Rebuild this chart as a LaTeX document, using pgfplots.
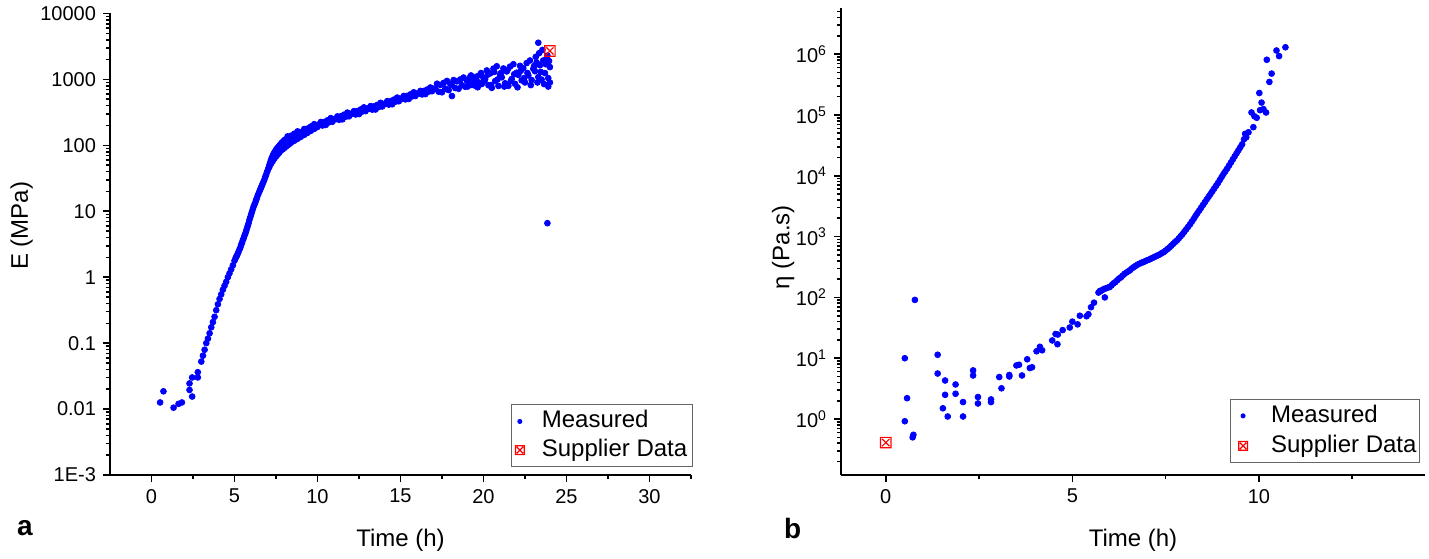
\documentclass[border=0pt]{standalone}
\usepackage{fontspec}
\setmainfont{Liberation Sans}
\usepackage{pgfplots}
\pgfplotsset{compat=1.18}
\definecolor{mblue}{RGB}{0,0,255}
\definecolor{mred}{RGB}{255,0,0}
\pgfdeclareplotmark{sqx}{%
  \pgfpathrectangle{\pgfpoint{-\pgfplotmarksize}{-\pgfplotmarksize}}{\pgfpoint{2\pgfplotmarksize}{2\pgfplotmarksize}}%
  \pgfpathmoveto{\pgfpoint{-0.7\pgfplotmarksize}{-0.7\pgfplotmarksize}}%
  \pgfpathlineto{\pgfpoint{0.7\pgfplotmarksize}{0.7\pgfplotmarksize}}%
  \pgfpathmoveto{\pgfpoint{-0.7\pgfplotmarksize}{0.7\pgfplotmarksize}}%
  \pgfpathlineto{\pgfpoint{0.7\pgfplotmarksize}{-0.7\pgfplotmarksize}}%
  \pgfusepathqstroke}
\pgfplotsset{
  common/.style={
    scale only axis,
    axis lines*=left,
    axis line style={line width=0.9pt},
    tick style={line width=0.8pt, black},
    major tick length=3.5pt,
    minor tick length=2pt,
    tick align=outside,
    tick label style={font=\fontsize{10}{12}\selectfont},
    label style={font=\fontsize{12}{14}\selectfont},
    /pgf/number format/assume math mode=true,
    legend cell align=left,
  },
  meas/.style={only marks, mark=*, mark size=1.45pt, color=mblue,
    mark options={draw=mblue, fill=mblue}},
  supp/.style={only marks, mark=sqx, mark size=2.6pt, color=mred,
    mark options={draw=mred, fill=white, line width=0.6pt}},
  limg/.style n args={3}{legend image code/.code={\path[draw=none,fill=none] (0pt,0pt) -- (#1,0pt); \draw[##1, only marks, mark size=#3] plot coordinates {(#2,0pt)};}},
}
\begin{document}
\begin{tikzpicture}
\path[use as bounding box] (0,0) rectangle (714.5pt,279pt);
% ---------------- panel a ----------------
\begin{axis}[common,
  at={(55pt,41.5pt)}, anchor=south west,
  width=290.5pt, height=230.75pt,
  xmin=-2.5, xmax=32.5,
  ymode=log, ymin=1e-3, ymax=1e4,
  xtick={0,5,10,15,20,25,30},
  minor xtick={2.5,7.5,12.5,17.5,22.5,27.5,32.5},
  ytick={1e-3,1e-2,1e-1,1,10,100,1000,10000},
  yticklabels={1E-3,0.01,0.1,1,10,100,1000,10000},
  minor ytick={2e-3,3e-3,4e-3,5e-3,6e-3,7e-3,8e-3,9e-3,
    0.02,0.03,0.04,0.05,0.06,0.07,0.08,0.09,
    0.2,0.3,0.4,0.5,0.6,0.7,0.8,0.9,
    2,3,4,5,6,7,8,9,20,30,40,50,60,70,80,90,
    200,300,400,500,600,700,800,900,
    2000,3000,4000,5000,6000,7000,8000,9000},
  xlabel={Time (h)}, ylabel={E (MPa)},
  xlabel style={at={(axis description cs:0.5,-0.141)}, anchor=center},
  ylabel style={at={(axis description cs:-0.152,0.54)}, anchor=center},
  legend style={at={(1.003,0.017)}, anchor=south east, draw=black!60, line width=0.5pt,
    inner xsep=1.5pt, inner ysep=1.5pt,
    nodes={inner sep=1pt, text height=9pt, text depth=2.5pt},
    font=\fontsize{12}{14}\selectfont, row sep=0.85pt,
    /tikz/every even column/.append style={column sep=2pt}},
]
\addplot[meas, limg={12.5pt}{2.5pt}{1pt}] coordinates {
(0.52,0.0126)(0.72,0.0186)(1.33,0.0105)(1.63,0.0120)(1.83,0.0126)(2.45,0.0155)
(2.29,0.0195)(2.29,0.0245)(2.45,0.0302)(2.79,0.0302)(2.79,0.0363)
(3.0,0.0525)(3.1,0.0646)(3.2,0.0794)(3.3,0.100)(3.4,0.117)(3.5,0.141)(3.6,0.174)
(3.7,0.209)(3.8,0.251)(3.9,0.316)(4.0,0.389)(4.1,0.468)(4.2,0.550)(4.3,0.646)
(4.4,0.741)(4.5,0.851)(4.6,1.00)(4.7,1.148)(4.8,1.318)(4.9,1.514)(5.0,1.778)
(5.05,1.905)(5.10,2.042)(5.15,2.138)(5.20,2.291)(5.25,2.455)(5.30,2.630)(5.35,2.818)
(5.40,3.090)(5.45,3.311)(5.50,3.631)(5.55,3.890)(5.60,4.266)(5.65,4.571)(5.70,5.012)
(5.75,5.495)(5.80,6.026)(5.85,6.607)(5.90,7.413)(5.95,8.128)(6.00,8.913)(6.05,9.772)
(6.10,10.72)(6.15,11.75)(6.20,12.59)(6.25,13.49)(6.30,14.79)(6.35,15.85)(6.40,17.38)
(6.45,18.62)(6.50,19.95)(6.55,21.38)(6.60,22.91)(6.65,24.55)(6.70,26.30)(6.75,28.18)
(6.80,30.20)(6.85,33.11)(6.90,35.48)(6.95,38.90)(7.00,41.69)(7.05,45.71)(7.10,50.12)
(7.15,54.95)(7.20,60.26)(7.25,64.57)(7.30,69.18)(7.35,74.13)(7.40,77.62)(7.45,81.28)
(7.50,85.11)(7.55,89.13)(7.60,91.20)(7.65,95.50)(7.70,97.72)(7.75,102.3)(7.80,104.7)
(7.85,109.6)(7.90,112.2)(7.95,114.8)(8.00,120.2)
(7.1,46.8)(7.2,52.5)(7.3,57.5)(7.4,63.1)(7.5,67.6)(7.6,72.4)(7.7,77.6)(7.8,83.2)
(7.9,87.1)(8.0,91.2)(8.1,95.5)(8.2,100)(8.3,104.7)(8.4,109.6)(8.5,114.8)(8.6,117.5)
(8.7,123.0)(8.8,125.9)(8.9,131.8)(9.0,134.9)(9.2,144.5)(9.4,154.9)(9.6,166.0)
(9.8,177.8)(10.0,190.5)
(8.1,124)(8.2,137)(8.3,123)(8.4,140)(8.5,127)(8.6,150)(8.7,140)(8.8,163)(8.9,144)(9.0,158)
(9.1,160)(9.2,177)(9.3,159)(9.4,180)(9.5,164)(9.6,193)(9.7,181)(9.8,210)(9.9,186)(10.0,204)
(10.1,204)(10.2,226)(10.3,200)(10.4,226)(10.5,204)(10.6,240)(10.7,224)(10.8,259)(10.9,228)(11.0,250)
(11.1,250)(11.2,275)(11.3,244)(11.4,276)(11.5,248)(11.6,292)(11.7,272)(11.8,314)(11.9,276)(12.0,301)
(12.1,301)(12.2,331)(12.3,294)(12.4,331)(12.5,298)(12.6,350)(12.7,326)(12.8,377)(12.9,331)(13.0,362)
(13.1,360)(13.2,394)(13.3,348)(13.4,390)(13.5,350)(13.6,411)(13.7,383)(13.8,442)(13.9,389)(14.0,425)
(14.1,425)(14.2,468)(14.3,415)(14.4,467)(14.5,420)(14.6,494)(14.7,460)(14.8,531)(14.9,467)(15.0,510)
(15.1,510)(15.2,562)(15.3,498)(15.4,562)(15.5,506)(15.6,594)(15.7,553)(15.8,638)(15.9,561)(16.0,612)
(16.1,610)(16.2,670)(16.3,592)(16.4,666)(16.5,598)(16.6,702)(16.7,654)(16.8,755)(16.9,663)(17.0,724)
(17.1,720)(17.2,861)(17.3,651)(17.4,825)(17.5,638)(17.6,886)(17.7,725)(17.8,948)(17.9,688)(18.0,851)
(18.1,820)(18.1,560)(18.2,979)(18.3,739)(18.4,935)(18.5,722)(18.6,1000)(18.7,818)(18.8,1068)(18.9,774)(19.0,956)
(19.1,919)(19.2,1095)(19.3,825)(19.4,1041)(19.5,802)(19.6,1109)(19.7,905)(19.8,1178)(19.9,852)(20.0,1050)
(20.1,1007)(20.2,1369)(20.3,817)(20.4,1234)(20.5,745)(20.6,1459)(20.7,944)(20.8,1584)(20.9,797)(21.0,1177)
(21.1,1078)(21.2,1466)(21.3,875)(21.4,1322)(21.5,799)(21.6,1565)(21.7,1013)(21.8,1701)(21.9,857)(22.0,1265)
(22.1,1170)(22.2,1607)(22.3,968)(22.4,1476)(22.5,900)(22.6,1770)(22.7,1150)(22.8,1938)(22.9,980)(23.0,1452)
(23.1,1332)(23.2,1814)(23.3,1085)(23.4,1642)(23.5,994)(23.6,1938)(23.7,1249)(23.8,2088)(23.9,1047)(24.0,1540)
(19.05,780)(19.25,1150)(19.45,980)(19.65,760)(19.85,1250)(20.05,950)(20.25,1180)(20.45,820)
(20.65,1300)(20.85,1000)(21.05,1250)(21.25,780)(21.45,1400)(21.65,950)(21.85,1200)(22.05,760)
(22.25,1350)(22.45,1050)(22.65,1250)(22.85,820)(23.05,1600)(23.15,2200)(23.25,900)(23.3,3600)
(23.35,2500)(23.45,1300)(23.55,2800)(23.65,850)(23.75,1700)(23.85,2300)(23.9,780)(23.95,1900)
(24.0,900)(23.85,6.6)
};
\addlegendentry{Measured}
\addplot[supp, limg={12.5pt}{2.5pt}{2.2pt}] coordinates {(24.0,2700)};
\addlegendentry{Supplier Data}
\end{axis}
% ---------------- panel b ----------------
\begin{axis}[common,
  at={(420.5pt,41.5pt)}, anchor=south west,
  width=292pt, height=233.5pt,
  xmin=-1.2, xmax=14.45,
  ymode=log, ymin=0.12, ymax=5.75e6,
  xtick={0,5,10},
  minor xtick={2.5,7.5,12.5},
  ytick={1,10,100,1000,1e4,1e5,1e6},
  yticklabels={10\textsuperscript{0},10\textsuperscript{1},10\textsuperscript{2},10\textsuperscript{3},10\textsuperscript{4},10\textsuperscript{5},10\textsuperscript{6}},
  minor ytick={0.2,0.3,0.4,0.5,0.6,0.7,0.8,0.9,
    2,3,4,5,6,7,8,9,20,30,40,50,60,70,80,90,
    200,300,400,500,600,700,800,900,
    2000,3000,4000,5000,6000,7000,8000,9000,
    2e4,3e4,4e4,5e4,6e4,7e4,8e4,9e4,
    2e5,3e5,4e5,5e5,6e5,7e5,8e5,9e5,
    2e6,3e6,4e6,5e6},
  xlabel={Time (h)}, ylabel={η (Pa.s)},
  xlabel style={at={(axis description cs:0.5,-0.139)}, anchor=center},
  ylabel style={at={(axis description cs:-0.099,0.488)}, anchor=center},
  legend style={at={(0.9914,0.026)}, anchor=south east, draw=black!60, line width=0.5pt,
    inner xsep=0.5pt, inner ysep=1.5pt,
    nodes={inner sep=1pt, text height=9pt, text depth=2.5pt},
    font=\fontsize{12}{14}\selectfont, row sep=1.5pt,
    /tikz/every even column/.append style={column sep=2pt}},
]
\addplot[meas, limg={19pt}{6pt}{1pt}] coordinates {
(0.51,0.92)(0.57,2.2)(0.51,10)(0.72,0.5)(0.74,0.55)(0.78,91)
(1.39,11.4)(1.39,5.6)(1.59,4.3)(1.59,2.5)(1.53,1.5)(1.66,1.1)(1.87,3.7)(1.87,2.6)
(2.07,1.9)(2.07,1.1)(2.34,6.3)(2.34,5.2)(2.47,2.3)(2.47,1.8)(2.82,2.1)(2.82,1.9)
(3.04,4.9)(3.10,3.2)(3.31,5.3)(3.31,5.0)(3.65,5.2)(3.50,7.6)(3.57,7.8)(3.79,9.6)
(3.86,6.9)(3.92,7.1)(4.04,13)(4.13,15.4)(4.19,13.5)(4.46,19.6)(4.60,17)(4.55,25)
(4.61,24.5)(4.74,29)(4.93,32)(5.0,40)(5.14,36)(5.2,50)(5.38,49)(5.43,53)(5.50,69)
(5.58,82)(5.70,120)(5.74,128)(5.87,100)
(5.75,126)(5.80,132)(5.85,138)(5.90,141)(5.95,145)(6.00,148)(6.05,158)(6.10,170)
(6.15,178)(6.20,191)(6.25,204)(6.30,214)(6.35,229)(6.40,245)(6.45,257)(6.50,269)
(6.55,282)(6.60,302)(6.65,316)(6.70,331)(6.75,347)(6.80,359)(6.85,372)(6.90,380)
(6.95,394)(7.00,407)(7.05,417)(7.10,432)(7.15,447)(7.20,462)(7.25,479)(7.30,495)
(7.35,513)(7.40,537)(7.45,556)(7.50,589)(7.55,624)(7.60,661)(7.65,708)(7.70,759)
(7.75,813)(7.80,861)(7.85,933)(7.90,1012)(7.95,1096)(8.00,1202)(8.05,1318)(8.10,1445)
(8.15,1585)(8.20,1758)(8.25,1950)(8.30,2188)(8.35,2427)(8.40,2692)(8.45,2985)(8.50,3311)
(8.55,3673)(8.60,4074)(8.65,4519)(8.70,5012)(8.75,5559)(8.80,6166)(8.85,6839)(8.90,7586)
(8.95,8511)(9.00,9550)(9.05,10715)(9.10,11885)(9.15,13183)(9.20,14791)(9.25,16596)
(9.30,18621)(9.35,20893)(9.40,23442)(9.45,26303)(9.50,29512)
(9.55,33000)(9.60,40000)(9.63,49000)(9.66,43000)(9.72,52000)(9.80,110000)(9.85,63000)
(9.88,95000)(9.94,90000)(10.03,120000)(10.07,160000)(10.01,230000)(10.12,125000)
(10.19,110000)(10.28,350000)(10.34,480000)(10.21,810000)(10.47,1150000)(10.54,930000)
(10.71,1300000)
};
\addlegendentry{Measured}
\addplot[supp, limg={19pt}{6pt}{2.2pt}] coordinates {(0,0.41)};
\addlegendentry{Supplier Data}
\end{axis}
\node[font=\fontsize{14}{16}\bfseries\selectfont] at (12.5pt,15pt) {a};
\node[font=\fontsize{14}{16}\bfseries\selectfont] at (396.3pt,15pt) {b};
\end{tikzpicture}
\end{document}
